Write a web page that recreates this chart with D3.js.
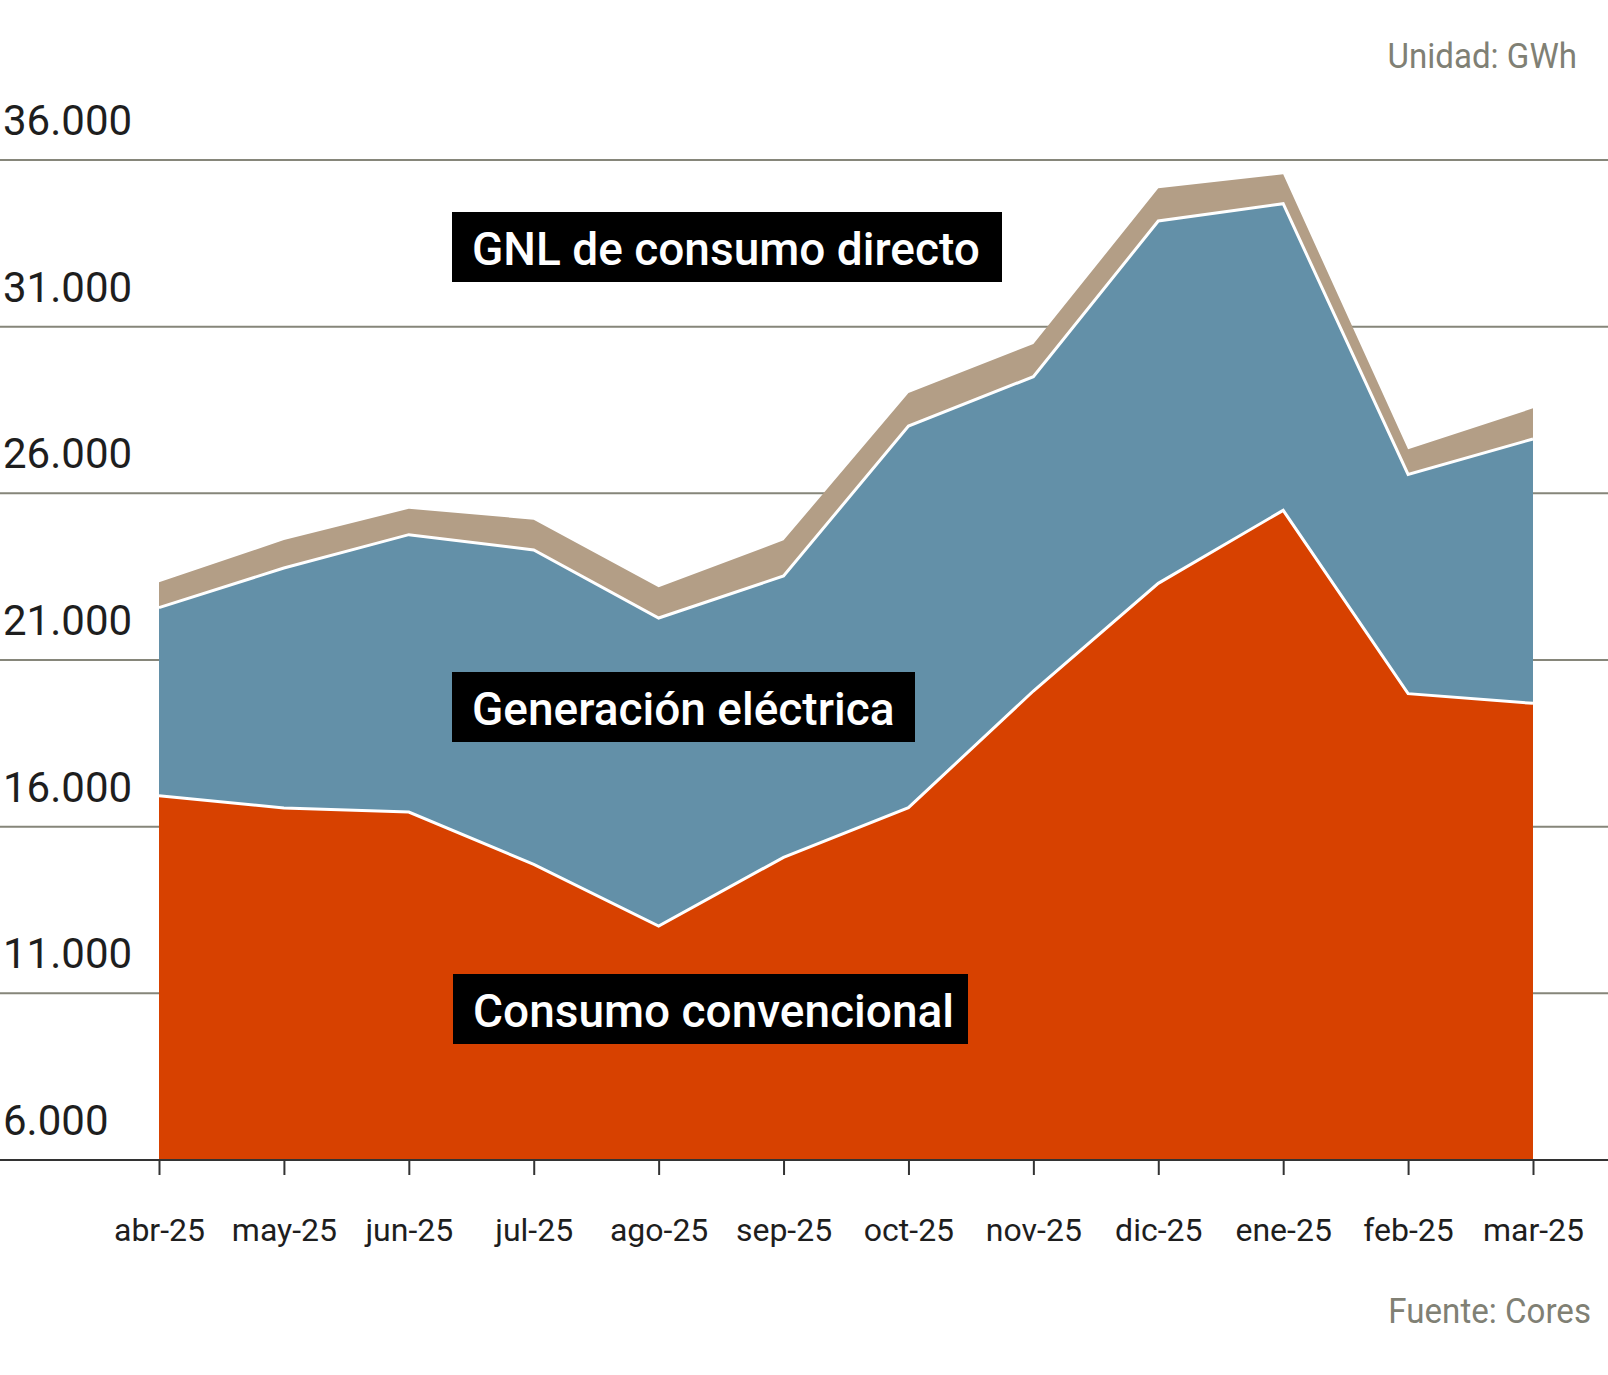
<!DOCTYPE html>
<html>
<head>
<meta charset="utf-8">
<script src="https://cdn.jsdelivr.net/npm/d3@7"></script>
<style>
  body { margin: 0; background: #fff; }
  svg { display: block; font-family: Roboto, "Noto Sans", sans-serif; }
</style>
</head>
<body>
<div id="chart"></div>
<script>
var svgWidth = 1608;
var svgHeight = 1375;

// data (GWh)
var months = ["abr-25", "may-25", "jun-25", "jul-25", "ago-25", "sep-25",
              "oct-25", "nov-25", "dic-25", "ene-25", "feb-25", "mar-25"];
var consumoConvencional = [16930, 16560, 16440, 14870, 13020, 15080, 16570, 20070, 23300, 25490, 19990, 19700];
var generacionElectrica = [5640, 7200, 8320, 9430, 9240, 8440, 11450, 9430, 10870, 9200, 6580, 7930];
var gnlConsumoDirecto = [760, 840, 780, 910, 920, 1070, 990, 980, 980, 880, 750, 920];
var yTicks = [6000, 11000, 16000, 21000, 26000, 31000, 36000];
var seriesKeys = ["convencional", "generacion", "gnl"];
var seriesColors = ["#d74100", "#6390a8", "#b39e86"];
var seriesLabels = [
    { text: "Consumo convencional", x: 453, y: 974, w: 515 },
    { text: "Generación eléctrica", x: 452, y: 672, w: 463 },
    { text: "GNL de consumo directo", x: 452, y: 212, w: 550 }
];

var rows = months.map(function(m, i) {
    return {
        month: m,
        convencional: consumoConvencional[i],
        generacion: generacionElectrica[i],
        gnl: gnlConsumoDirecto[i]
    };
});

var es = d3.formatLocale({ decimal: ",", thousands: ".", grouping: [3], currency: ["", " €"] });
var fmt = es.format(",d");

var svg = d3.select("#chart").append("svg")
    .attr("width", svgWidth)
    .attr("height", svgHeight);

var x = d3.scalePoint().domain(months).range([159, 1533]);
var y = d3.scaleLinear().domain([6000, 36000]).range([1160, 160]).clamp(true);

// gridlines behind the areas
svg.append("g").selectAll("line")
    .data(yTicks.slice(1))
    .enter().append("line")
    .attr("x1", 0).attr("x2", svgWidth)
    .attr("y1", d => y(d)).attr("y2", d => y(d))
    .attr("stroke", "#86867a")
    .attr("stroke-width", 2);

// stacked areas
var stacked = d3.stack().keys(seriesKeys)(rows);

var area = d3.area()
    .x(d => x(d.data.month))
    .y0(d => y(d[0]))
    .y1(d => y(d[1]));

svg.append("g").selectAll("path")
    .data(stacked)
    .enter().append("path")
    .attr("d", area)
    .attr("fill", (d, i) => seriesColors[i]);

// white separators between layers
var topLine = d3.line()
    .x(d => x(d.data.month))
    .y(d => y(d[1]));

svg.append("g").selectAll("path")
    .data(stacked.slice(0, 2))
    .enter().append("path")
    .attr("d", topLine)
    .attr("fill", "none")
    .attr("stroke", "#fff")
    .attr("stroke-width", 3);

// y labels sit above their gridline
svg.append("g").selectAll("text")
    .data(yTicks)
    .enter().append("text")
    .attr("transform", d => `translate(3, ${y(d) - 25})`)
    .attr("font-size", 42)
    .attr("fill", "#1e1e1e")
    .text(d => fmt(d));

// x axis
var xAxis = svg.append("g")
    .attr("transform", `translate(0, ${y(6000)})`)
    .call(d3.axisBottom(x).tickSize(15).tickPadding(66).tickSizeOuter(0));

xAxis.select(".domain").remove();
xAxis.append("line")
    .attr("x1", 0).attr("x2", svgWidth)
    .attr("stroke", "#333")
    .attr("stroke-width", 2);
xAxis.selectAll(".tick line")
    .attr("stroke", "#333")
    .attr("stroke-width", 2);
xAxis.selectAll(".tick text")
    .attr("font-family", "Roboto, sans-serif")
    .attr("font-size", 32)
    .attr("fill", "#1e1e1e")
    .attr("dy", 0);

// series labels in black boxes
var labelG = svg.append("g").selectAll("g")
    .data(seriesLabels)
    .enter().append("g")
    .attr("transform", d => `translate(${d.x}, ${d.y})`);

labelG.append("rect")
    .attr("width", d => d.w)
    .attr("height", 70)
    .attr("fill", "#000");

labelG.append("text")
    .attr("transform", "translate(20, 53)")
    .attr("font-size", 46)
    .attr("font-weight", 500)
    .attr("fill", "#fff")
    .text(d => d.text);

// notes
svg.append("text")
    .attr("transform", "translate(1577, 68) scale(0.92, 1)")
    .attr("text-anchor", "end")
    .attr("font-size", 36)
    .attr("fill", "#808074")
    .text("Unidad: GWh");

svg.append("text")
    .attr("transform", "translate(1591, 1323) scale(0.92, 1)")
    .attr("text-anchor", "end")
    .attr("font-size", 36)
    .attr("fill", "#808074")
    .text("Fuente: Cores");
</script>
</body>
</html>
